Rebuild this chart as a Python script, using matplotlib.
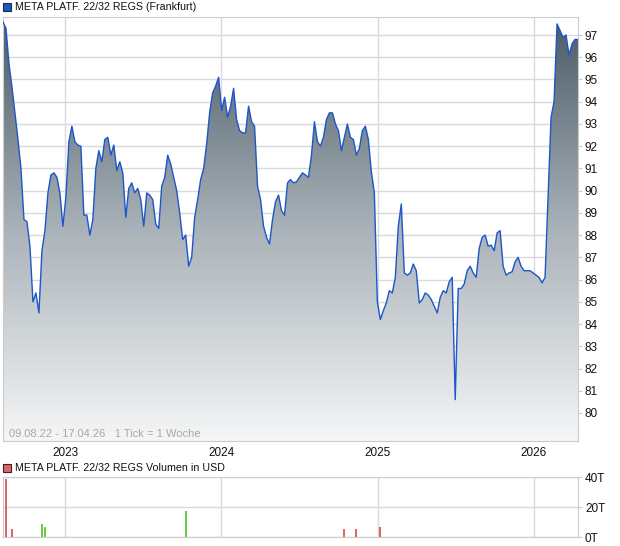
import numpy as np
import pandas as pd
import matplotlib
matplotlib.use('Agg')
import matplotlib.pyplot as plt
import matplotlib.dates as mdates
from matplotlib.colors import LinearSegmentedColormap
from matplotlib.patches import Rectangle

plt.rcParams['font.family'] = ['Liberation Sans', 'DejaVu Sans']

# weekly closes, starting 09.08.22
prices = [
    97.58, 97.3, 95.7, 94.66, 93.5, 92.3, 91.0, 88.7, 88.6, 87.5,
    85.0, 85.4, 84.5, 87.3, 88.2, 89.9, 90.7, 90.8, 90.6, 89.9,
    88.4, 89.7, 92.2, 92.9, 92.2, 92.05, 92.0, 88.9, 88.9, 88.0,
    88.7, 91.0, 91.8, 91.3, 92.3, 92.4, 91.6, 92.05, 90.9, 91.3,
    90.8, 88.8, 90.1, 90.35, 89.9, 90.1, 89.6, 88.4, 89.9, 89.8,
    89.6, 88.5, 88.3, 90.2, 90.6, 91.6, 91.2, 90.6, 90.0, 89.0,
    87.8, 88.0, 86.6, 87.0, 88.8, 89.6, 90.5, 91.0, 92.1, 93.5,
    94.4, 94.7, 95.1, 93.6, 94.2, 93.3, 93.8, 94.6, 93.2, 92.7,
    92.6, 92.6, 93.8, 93.1, 92.9, 90.2, 89.6, 88.4, 87.9, 87.6,
    88.7, 89.5, 89.8, 89.1, 88.9, 90.35, 90.5, 90.35, 90.4, 90.6,
    90.8, 90.7, 90.6, 91.6, 93.1, 92.2, 92.0, 92.4, 93.2, 93.5,
    93.5, 93.0, 92.7, 91.8, 92.4, 93.0, 92.4, 92.3, 91.6, 91.9,
    92.7, 92.9, 92.3, 90.85, 89.9, 85.0, 84.2, 84.6, 84.95, 85.5,
    85.4, 86.1, 88.4, 89.4, 86.3, 86.2, 86.3, 86.7, 86.4, 84.95,
    85.1, 85.4, 85.3, 85.1, 84.8, 84.5, 85.2, 85.5, 85.4, 85.9,
    86.1, 80.6, 85.6, 85.6, 85.8, 86.4, 86.6, 86.3, 86.1, 87.4,
    87.9, 88.0, 87.5, 87.55, 87.3, 88.1, 88.2, 86.6, 86.2, 86.3,
    86.35, 86.8, 87.0, 86.6, 86.4, 86.4, 86.4, 86.3, 86.2, 86.1,
    85.85, 86.1, 89.7, 93.3, 94.0, 97.5, 97.2, 96.9, 97.0, 96.1,
    96.6, 96.8, 96.8,
]
dates = pd.date_range('2022-08-09', periods=len(prices), freq='7D')

# volume (thousand USD), week index into dates
vol_weeks = [1, 3, 13, 14, 61, 114, 118, 126]
vol_values = [39, 5.6, 9, 6.8, 17.6, 5.6, 5.6, 6.8]
vol_up = [False, False, True, True, True, False, False, False]

y_ticks = list(range(80, 98))
title = 'META PLATF. 22/32 REGS (Frankfurt)'
vol_title = 'META PLATF. 22/32 REGS Volumen in USD'
range_text = '09.08.22 - 17.04.26   1 Tick = 1 Woche'

W, H = 620, 546
fig = plt.figure(figsize=(W / 100, H / 100), dpi=100)
ax = fig.add_axes([3 / W, 1 - 441 / H, 575 / W, 424 / H])

x = mdates.date2num(dates)
ylo, yhi = 78.74, 97.81
ax.set_xlim(x[0], x[-1])
ax.set_ylim(ylo, yhi)

poly = ax.fill_between(x, prices, ylo - 1, color='none', lw=0)
cmap = LinearSegmentedColormap.from_list('g', ['#f5f6f7', '#a9b2b8', '#4a5a66'])
grad = np.linspace(1, 0, 256).reshape(-1, 1)
im = ax.imshow(grad, cmap=cmap, aspect='auto', extent=[x[0], x[-1], ylo, yhi],
               zorder=1, interpolation='bilinear')
im.set_clip_path(poly.get_paths()[0], transform=ax.transData)
ax.plot(x, prices, color='#1c56c8', lw=1.0, zorder=3)

ax.grid(True, color='#dadada', lw=1, zorder=0)
ax.set_axisbelow(True)
ax.yaxis.tick_right()
ax.set_yticks(y_ticks)
ax.xaxis.set_major_locator(mdates.YearLocator())
ax.xaxis.set_major_formatter(mdates.DateFormatter('%Y'))
ax.tick_params(axis='y', length=3, color='#cccccc', labelsize=8.5, pad=2, labelcolor='#111111')
ax.tick_params(axis='x', length=0, labelsize=8.5, pad=4, labelcolor='#111111')
for s in ax.spines.values():
    s.set_color('#cccccc')
ax.text(6 / 575, 7 / 424, range_text, transform=ax.transAxes, fontsize=8,
        color='#a8a8a8', va='center', ha='left', zorder=4)

# volume panel
ax2 = fig.add_axes([3 / W, 9 / H, 575 / W, 60 / H])
ax2.set_xlim(x[0], x[-1])
ax2.set_ylim(0, 40)
vx = [x[i] for i in vol_weeks]
vc = ['#66cc44' if u else '#dd6666' for u in vol_up]
ax2.bar(vx, vol_values, width=4.5, color=vc, zorder=2)
ax2.grid(True, color='#dadada', lw=1, zorder=0)
ax2.set_axisbelow(True)
ax2.yaxis.tick_right()
ax2.set_yticks([0, 20, 40])
ax2.set_yticklabels(['0T', '20T', '40T'])
ax2.xaxis.set_major_locator(mdates.YearLocator())
ax2.tick_params(axis='x', length=0, labelbottom=False)
ax2.tick_params(axis='y', length=3, color='#cccccc', labelsize=8.5, pad=2, labelcolor='#111111')
for s in ax2.spines.values():
    s.set_color('#cccccc')

# headers with colour squares
fig.patches.append(Rectangle((3 / W, 1 - 11 / H), 8 / W, 8 / H, transform=fig.transFigure,
                             facecolor='#1f56c0', edgecolor='#1a2a50', lw=0.8))
fig.text(15 / W, 1 - 7 / H, title, fontsize=7.7, va='center', ha='left', color='#111111')
fig.patches.append(Rectangle((3 / W, 1 - 472 / H), 8 / W, 8 / H, transform=fig.transFigure,
                             facecolor='#dd6666', edgecolor='#402020', lw=0.8))
fig.text(15 / W, 1 - 468 / H, vol_title, fontsize=7.7, va='center', ha='left', color='#111111')

fig.savefig('out.png', dpi=100)
